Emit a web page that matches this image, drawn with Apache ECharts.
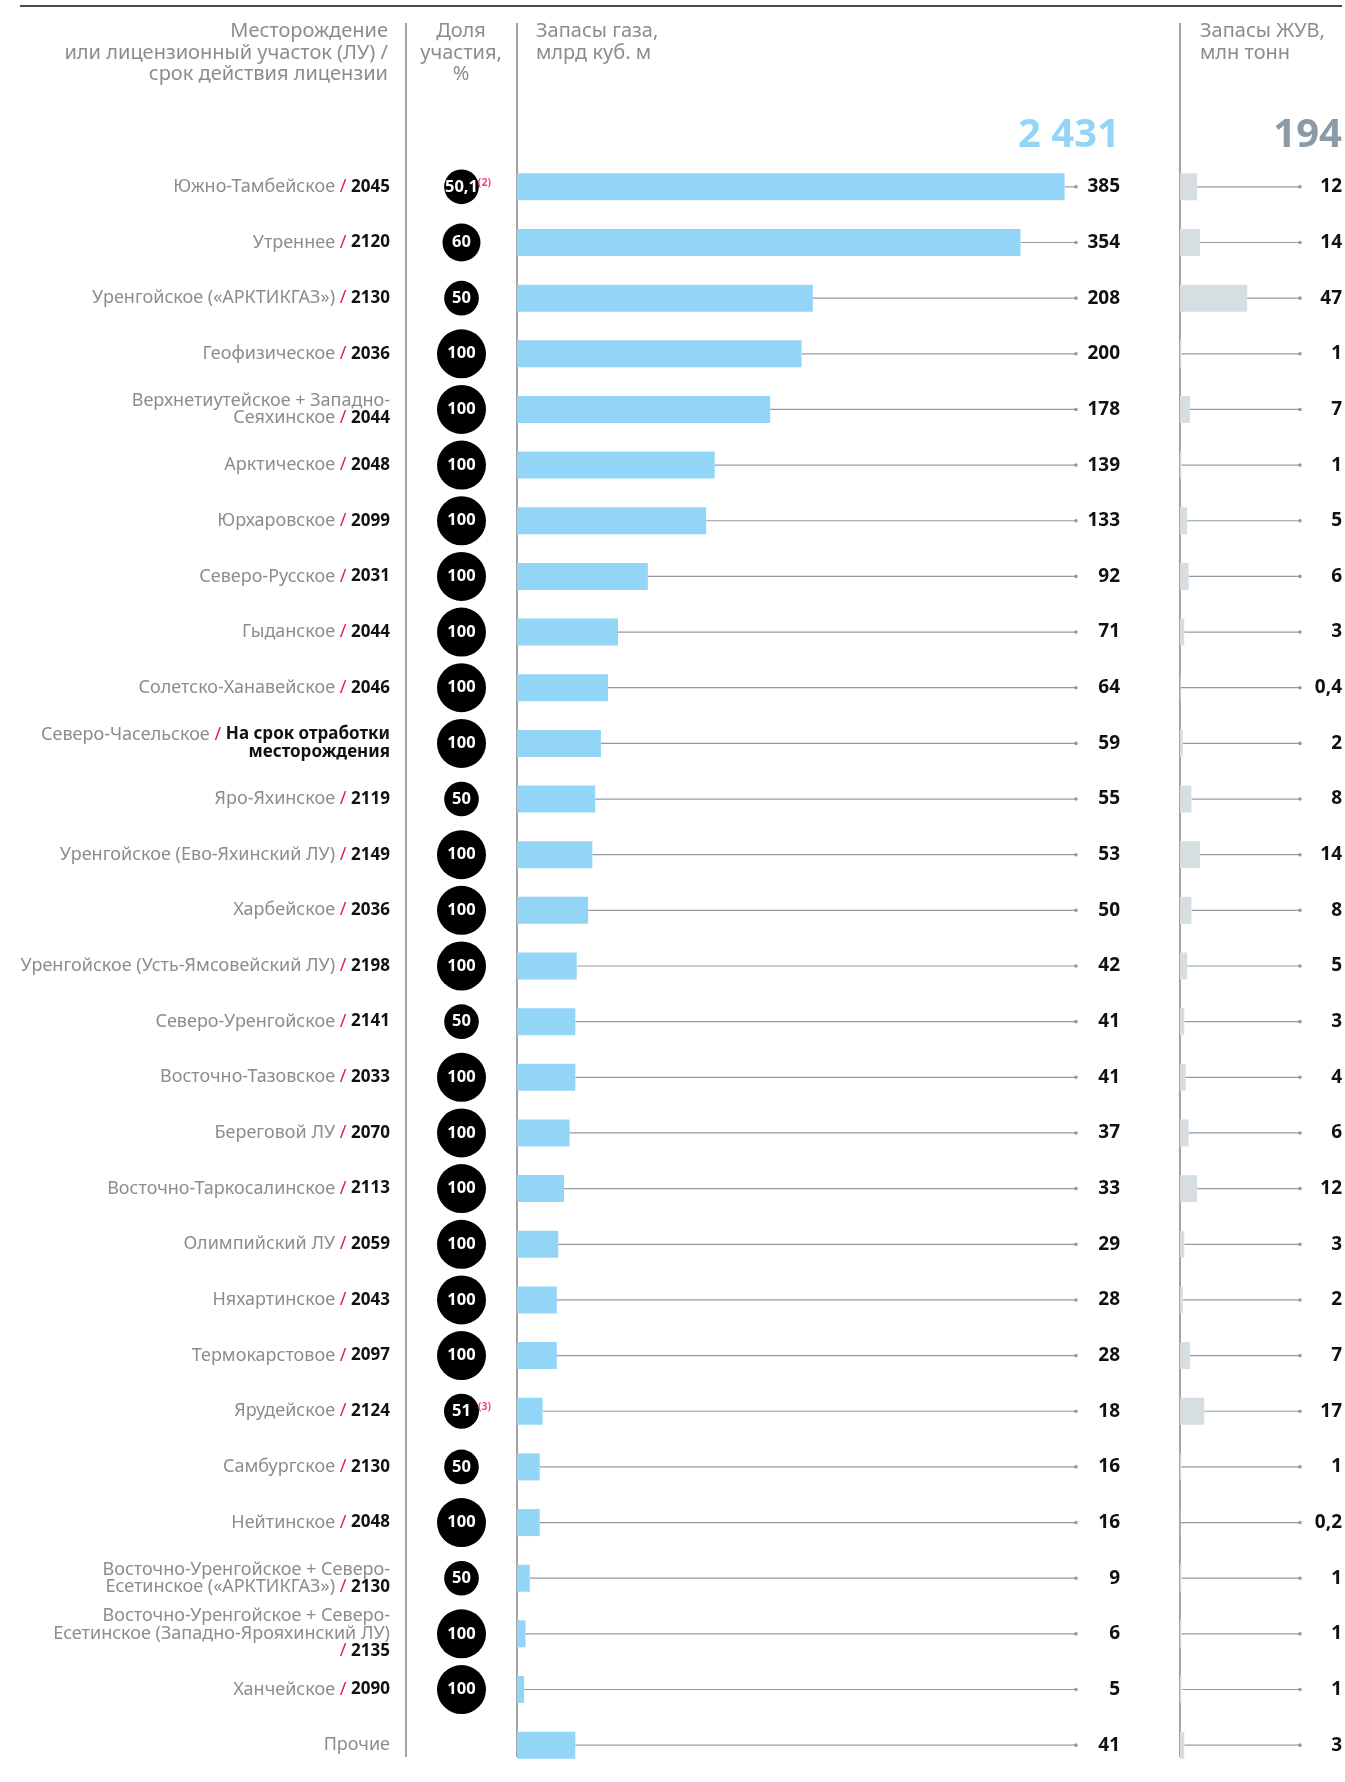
<!DOCTYPE html>
<html><head><meta charset="utf-8">
<script src="https://cdn.jsdelivr.net/npm/echarts@6/dist/echarts.min.js"></script>
<style>html,body{margin:0;padding:0;background:#fff}#c{width:1345px;height:1782px}</style>
</head><body><div id="c"></div>
<script>
// ---- data ----
const names = [
  'Южно-Тамбейское','Утреннее','Уренгойское («АРКТИКГАЗ»)','Геофизическое',
  'Верхнетиутейское + Западно-\nСеяхинское','Арктическое','Юрхаровское','Северо-Русское',
  'Гыданское','Солетско-Ханавейское','Северо-Часельское','Яро-Яхинское',
  'Уренгойское (Ево-Яхинский ЛУ)','Харбейское','Уренгойское (Усть-Ямсовейский ЛУ)',
  'Северо-Уренгойское','Восточно-Тазовское','Береговой ЛУ','Восточно-Таркосалинское',
  'Олимпийский ЛУ','Няхартинское','Термокарстовое','Ярудейское','Самбургское','Нейтинское',
  'Восточно-Уренгойское + Северо-\nЕсетинское («АРКТИКГАЗ»)',
  'Восточно-Уренгойское + Северо-\nЕсетинское (Западно-Ярояхинский ЛУ)\n',
  'Ханчейское','Прочие'
];
const years = ['2045','2120','2130','2036','2044','2048','2099','2031','2044','2046',
  'На срок отработки\nместорождения','2119','2149','2036','2198','2141','2033','2070','2113',
  '2059','2043','2097','2124','2130','2048','2130','2135','2090',''];
const shares = [50.1,60,50,100,100,100,100,100,100,100,100,50,100,100,100,50,100,100,100,100,100,100,51,50,100,50,100,100,null];
const shareNotes = ['(2)','','','','','','','','','','','','','','','','','','','','','','(3)','','','','','',''];
const gasReserves = [385,354,208,200,178,139,133,92,71,64,59,55,53,50,42,41,41,37,33,29,28,28,18,16,16,9,6,5,41];
const liquidReserves = [12,14,47,1,7,1,5,6,3,0.4,2,8,14,8,5,3,4,6,12,3,2,7,17,1,0.2,1,1,1,3];
const gasTotalLabel = '2 431';
const liquidTotalLabel = '194';

// ---- styles ----
const FONT = '"Noto Sans", sans-serif';
const GREY = '#8c8c8c', RED = '#e8194f', BLUE = '#93d5f6', LGREY = '#d6dee2', LEAD = '#8f9ca6';
const ROW_TOP = 159, ROW_H = 1614;

function wrap(style, txt){
  return txt.split('\n').map(l => l === '' ? '' : '{' + style + '|' + l + '}').join('\n');
}
function catLabel(i){
  const n = names[i], y = years[i];
  if (!y) return wrap('n', n);
  let s = wrap('n', n);
  const endsEmpty = n.endsWith('\n');
  s += (endsEmpty ? '' : '{n| }') + '{s|/}{n| }' + wrap('y', y);
  return s;
}
const fmt = v => String(v).replace('.', ',');

function leader(labelDx){
  return function(params, api){
    const v = api.value(0), idx = api.value(1);
    const p = api.coord([v, idx]);
    const cs = params.coordSys;
    const ex = cs.x + cs.width;
    return {type:'group', children:[
      {type:'line', shape:{x1:p[0], y1:p[1], x2:ex, y2:p[1]}, style:{stroke:LEAD, lineWidth:1.2}},
      {type:'circle', shape:{cx:ex, cy:p[1], r:1.8}, style:{fill:LEAD}},
      {type:'text', style:{x:ex+labelDx, y:p[1], text:fmt(v), align:'right', verticalAlign:'middle',
        textAlign:'right', textVerticalAlign:'middle',
        font:'bold 19px ' + FONT, fill:'#111'}}
    ]};
  };
}

const cats = names.map((_, i) => i);
const chart = echarts.init(document.getElementById('c'), null, {renderer:'canvas'});
const sepStyle = {stroke:'#858585', lineWidth:1.5};
chart.setOption({
  animation:false,
  textStyle:{fontFamily:FONT},
  grid:[
    {left:517, top:ROW_TOP, width:559, height:ROW_H},
    {left:406, top:ROW_TOP, width:111, height:ROW_H},
    {left:1180, top:ROW_TOP, width:120, height:ROW_H}
  ],
  xAxis:[
    {gridIndex:0, type:'value', min:0, max:393, show:false},
    {gridIndex:1, type:'value', min:0, max:1, show:false},
    {gridIndex:2, type:'value', min:0, max:84, show:false}
  ],
  yAxis:[
    {gridIndex:0, type:'category', inverse:true, data:cats,
     axisLine:{show:false}, axisTick:{show:false},
     axisLabel:{margin:127, align:'right', formatter:(v, i) => catLabel(i),
       rich:{
         n:{fontSize:18, color:GREY, lineHeight:17.5, align:'right', fontFamily:FONT},
         s:{fontSize:18, color:RED, lineHeight:17.5, align:'right', fontFamily:FONT},
         y:{fontSize:17, color:'#111', fontWeight:'bold', lineHeight:17.5, align:'right', fontFamily:FONT}
       }}},
    {gridIndex:1, type:'category', inverse:true, data:cats, show:false},
    {gridIndex:2, type:'category', inverse:true, data:cats, show:false}
  ],
  series:[
    {type:'bar', xAxisIndex:0, yAxisIndex:0, data:gasReserves, barWidth:27,
     itemStyle:{color:BLUE}, silent:true},
    {type:'custom', xAxisIndex:0, yAxisIndex:0, renderItem:leader(44),
     data:gasReserves.map((v,i)=>[v,i]), silent:true},
    {type:'scatter', xAxisIndex:1, yAxisIndex:1, silent:true,
     data:shares.map((s,i)=>s==null?null:[0.5,i,s]).filter(d=>d),
     symbolSize:d=>4.9*Math.sqrt(d[2]),
     itemStyle:{color:'#000', opacity:1},
     label:{show:true, position:'inside', color:'#fff', fontWeight:'bold', fontSize:16.5,
       fontFamily:FONT, formatter:p=>fmt(p.value[2])}},
    {type:'scatter', xAxisIndex:1, yAxisIndex:1, silent:true,
     data:shares.map((s,i)=>shareNotes[i]?[0.5,i,s,shareNotes[i]]:null).filter(d=>d),
     symbolSize:d=>4.9*Math.sqrt(d[2]),
     itemStyle:{color:'rgba(0,0,0,0)'},
     label:{show:true, position:'right', distance:0, offset:[-1,-4], color:RED, fontWeight:'bold',
       fontSize:10.5, fontFamily:FONT, formatter:p=>p.value[3]}},
    {type:'bar', xAxisIndex:2, yAxisIndex:2, data:liquidReserves, barWidth:27,
     itemStyle:{color:LGREY}, silent:true},
    {type:'custom', xAxisIndex:2, yAxisIndex:2, renderItem:leader(42),
     data:liquidReserves.map((v,i)=>[v,i]), silent:true}
  ],
  graphic:[
    {type:'line', shape:{x1:20, y1:6, x2:1342, y2:6}, style:{stroke:'#111', lineWidth:1.5}},
    {type:'line', shape:{x1:406, y1:23, x2:406, y2:1757}, style:sepStyle},
    {type:'line', shape:{x1:517, y1:23, x2:517, y2:1757}, style:sepStyle},
    {type:'line', shape:{x1:1180, y1:23, x2:1180, y2:1757}, style:sepStyle},
    {type:'text', x:388, y:21, style:{text:'Месторождение\nили лицензионный участок (ЛУ) /\nсрок действия лицензии',
      align:'right', verticalAlign:'top', font:'20px '+FONT, lineHeight:21.5, fill:GREY}},
    {type:'text', x:461, y:21, style:{text:'Доля\nучастия,\n%',
      align:'center', verticalAlign:'top', font:'20px '+FONT, lineHeight:21.5, fill:GREY}},
    {type:'text', x:536, y:21, style:{text:'Запасы газа,\nмлрд куб. м',
      align:'left', verticalAlign:'top', font:'20px '+FONT, lineHeight:21.5, fill:GREY}},
    {type:'text', x:1200, y:21, style:{text:'Запасы ЖУВ,\nмлн тонн',
      align:'left', verticalAlign:'top', font:'20px '+FONT, lineHeight:21.5, fill:GREY}},
    {type:'text', x:1120, y:136, style:{text:gasTotalLabel, align:'right', verticalAlign:'middle',
      font:'bold 40px '+FONT, fill:BLUE}},
    {type:'text', x:1342, y:136, style:{text:liquidTotalLabel, align:'right', verticalAlign:'middle',
      font:'bold 40px '+FONT, fill:'#8a9aa6'}}
  ]
});
</script></body></html>
